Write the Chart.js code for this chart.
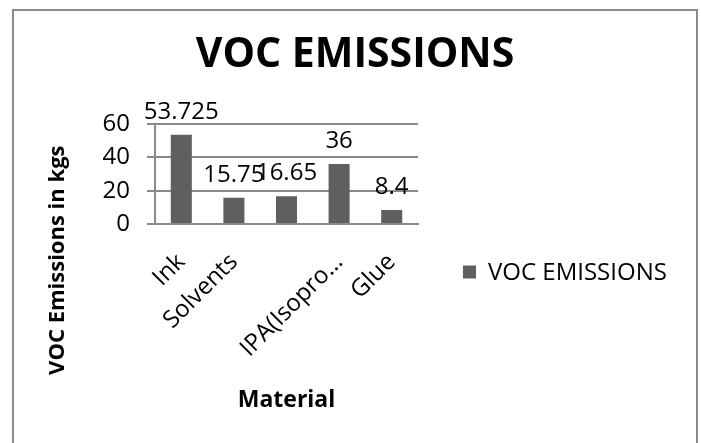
<!DOCTYPE html>
<html>
<head>
<meta charset="utf-8">
<script src="https://cdn.jsdelivr.net/npm/chart.js@4/dist/chart.umd.min.js"></script>
<style>
  html, body { margin: 0; padding: 0; background: #fff; overflow: hidden; }
  #frame {
    position: absolute;
    left: 12px;
    top: 9px;
    width: 682px;
    height: 522px;
    border: 2px solid #8a8a8a;
  }
  #wrap { position: relative; width: 100%; height: 100%; }
</style>
</head>
<body>
<div id="frame"><div id="wrap"><canvas id="vocChart"></canvas></div></div>
<script>
// ---------- Data ----------
const materials = ["Ink", "Solvents", "", "IPA(Isopro…", "Glue"];
const emissions = [53.725, 15.75, 16.65, 36, 8.4];
const seriesName = "VOC EMISSIONS";
const yTicks = [0, 20, 40, 60];

const FONT = '"Open Sans", sans-serif';
const GRID = "#8a8a8a";

// value labels above the bars
const valueLabels = {
  id: "valueLabels",
  afterDatasetsDraw(chart) {
    const ctx = chart.ctx;
    const meta = chart.getDatasetMeta(0);
    ctx.save();
    ctx.font = "24px " + FONT;
    ctx.fillStyle = "#000";
    ctx.textAlign = "center";
    ctx.textBaseline = "alphabetic";
    meta.data.forEach((bar, i) => {
      ctx.fillText(String(emissions[i]), bar.x, bar.y - 16);
    });
    ctx.restore();
  },
};

// y axis title, centred on the plot plus its category labels (like Excel)
const yTitle = {
  id: "yTitle",
  afterDraw(chart) {
    const ctx = chart.ctx;
    const area = chart.chartArea;
    ctx.save();
    ctx.translate(44, area.top + 136);
    ctx.rotate(-Math.PI / 2);
    ctx.font = "bold 22px " + FONT;
    ctx.fillStyle = "#000";
    ctx.textAlign = "center";
    ctx.textBaseline = "middle";
    ctx.fillText("VOC Emissions in kgs", 0, 0);
    ctx.restore();
  },
};

// legend on the right, vertically centred on the chart box
const sideLegend = {
  id: "sideLegend",
  afterDraw(chart) {
    const ctx = chart.ctx;
    const ds = chart.data.datasets[0];
    const x = chart.chartArea.right + 45;
    const y = chart.height / 2;
    ctx.save();
    ctx.fillStyle = ds.backgroundColor;
    ctx.fillRect(x, y - 6.5, 13, 13);
    ctx.font = "24px " + FONT;
    ctx.fillStyle = "#000";
    ctx.textAlign = "left";
    ctx.textBaseline = "middle";
    ctx.fillText(ds.label, x + 25, y + 1);
    ctx.restore();
  },
};

new Chart(document.getElementById("vocChart"), {
  type: "bar",
  data: {
    labels: materials,
    datasets: [
      {
        label: seriesName,
        data: emissions,
        backgroundColor: "#5f5f5f",
        borderWidth: 0,
        barPercentage: 0.4,
        categoryPercentage: 1,
      },
    ],
  },
  options: {
    responsive: true,
    maintainAspectRatio: false,
    animation: false,
    layout: { padding: 0 },
    plugins: {
      title: {
        display: true,
        text: "VOC EMISSIONS",
        color: "#000",
        font: { family: FONT, size: 41, weight: "bold" },
        padding: { top: 20, bottom: 44 },
      },
      legend: { display: false },
      tooltip: { enabled: false },
    },
    scales: {
      x: {
        grid: { display: false, drawTicks: false },
        border: { display: true, color: GRID, width: 2 },
        ticks: {
          color: "#000",
          font: { family: FONT, size: 24 },
          minRotation: 45,
          maxRotation: 45,
          autoSkip: false,
          padding: 24,
        },
        title: {
          display: true,
          text: "Material",
          color: "#000",
          font: { family: FONT, size: 23, weight: "bold" },
          padding: { top: 0, bottom: 119 },
        },
        afterFit(scale) {
          scale.height = 309;
        },
      },
      y: {
        min: 0,
        max: 60,
        afterBuildTicks(scale) {
          scale.ticks = yTicks.map(v => ({ value: v }));
        },
        grid: { color: GRID, lineWidth: 2, tickLength: 8, drawTicks: true },
        border: { display: true, color: GRID, width: 2 },
        ticks: {
          color: "#000",
          font: { family: FONT, size: 24 },
          padding: 17,
        },
        afterFit(scale) {
          scale.width = 141;
        },
      },
      // empty right-hand box: keeps the space where the legend sits
      legendSpace: {
        type: "linear",
        axis: "y",
        position: "right",
        grid: { display: false },
        border: { display: false },
        ticks: { display: false },
        afterFit(scale) {
          scale.width = 278;
        },
      },
    },
  },
  plugins: [valueLabels, yTitle, sideLegend],
});
</script>
</body>
</html>
